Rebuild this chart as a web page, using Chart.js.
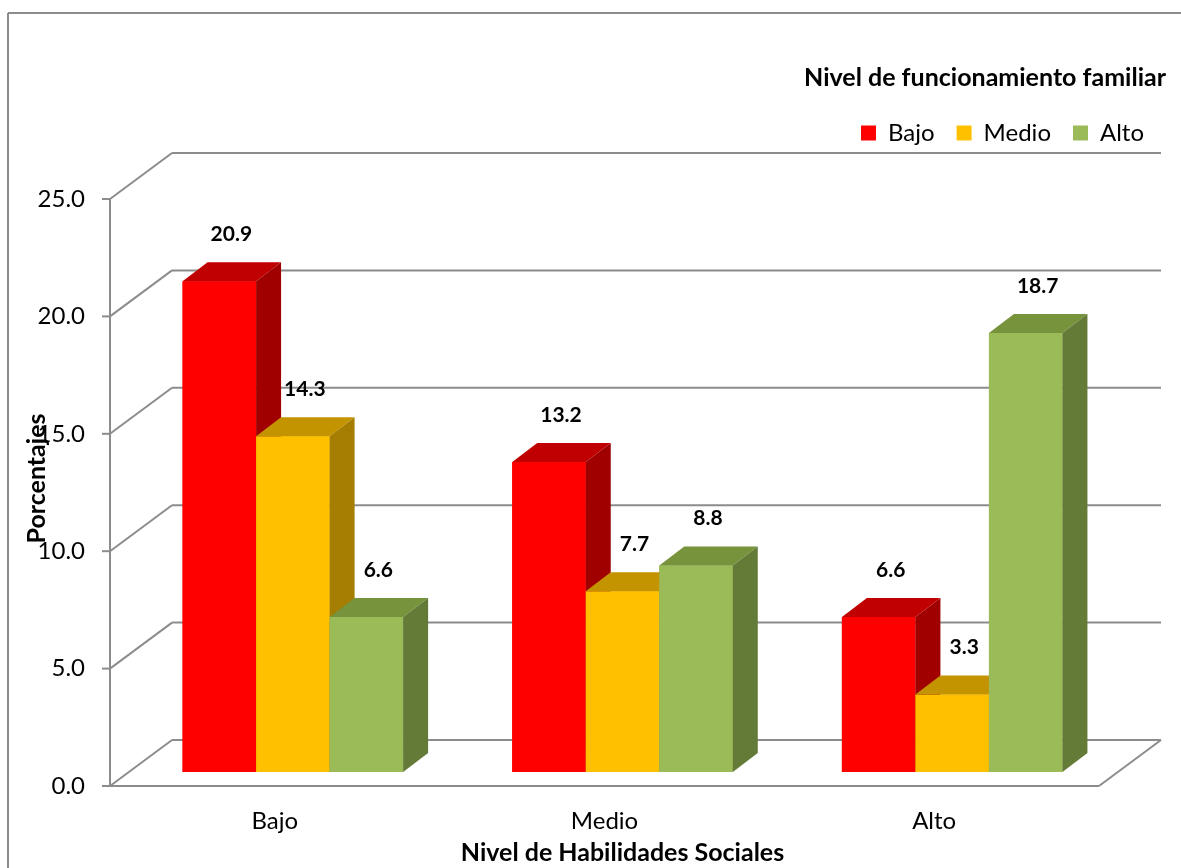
<!DOCTYPE html>
<html>
<head>
<meta charset="utf-8">
<title>Habilidades sociales</title>
<script src="https://cdn.jsdelivr.net/npm/chart.js@4.4.0/dist/chart.umd.min.js"></script>
<style>
  html, body { margin: 0; padding: 0; background: #fff; }
  canvas { display: block; }
</style>
</head>
<body>
<canvas id="myChart" width="1181" height="868"></canvas>
<script>
// data
const categories = ['Bajo', 'Medio', 'Alto'];
const seriesNames = ['Bajo', 'Medio', 'Alto'];
const bajoValues = [20.9, 13.2, 6.6];
const medioValues = [14.3, 7.7, 3.3];
const altoValues = [6.6, 8.8, 18.7];
const yTicks = [0, 5, 10, 15, 20, 25];

const frontColors = ['#FF0000', '#FFC000', '#9BBB59'];
const topColors = ['#C00000', '#C49300', '#77933C'];
const sideColors = ['#A00000', '#A57D00', '#647A37'];

const FONT = "Lato, Carlito, 'Open Sans', sans-serif";
const LINE = '#8c8c8c';
// fake 3d offsets, relative to the plane the bar fronts sit in
const BAR_DEPTH = { dx: 25, dy: -19 };
const FRONT = { dx: -18, dy: 14 };
const BACK = { dx: 44, dy: -32 };

function line(ctx, x1, y1, x2, y2) {
  ctx.beginPath();
  ctx.moveTo(x1, y1);
  ctx.lineTo(x2, y2);
  ctx.stroke();
}

function poly(ctx, pts, color) {
  ctx.beginPath();
  ctx.moveTo(pts[0][0], pts[0][1]);
  pts.slice(1).forEach((p) => ctx.lineTo(p[0], p[1]));
  ctx.closePath();
  ctx.fillStyle = color;
  ctx.fill();
}

const box3d = {
  id: 'box3d',
  afterInit(chart) {
    // leave room between legend and plot
    const legend = chart.legend;
    const fit = legend.fit;
    legend.fit = function () {
      fit.call(this);
      this.height = 165;
    };
  },
  beforeDatasetsDraw(chart) {
    const { ctx, chartArea } = chart;
    const y = chart.scales.y;
    const left = chartArea.left;
    const right = chartArea.right;
    ctx.save();
    ctx.strokeStyle = LINE;
    ctx.lineWidth = 2;

    // outer frame of the chart object
    line(ctx, 8, 13, chart.width, 13);
    line(ctx, 8, 13, 8, chart.height);

    yTicks.forEach((v) => {
      const py = y.getPixelForValue(v);
      line(ctx, left + FRONT.dx, py + FRONT.dy, left + BACK.dx, py + BACK.dy);
      line(ctx, left + BACK.dx, py + BACK.dy, right + BACK.dx, py + BACK.dy);
      line(ctx, left + FRONT.dx - 8, py + FRONT.dy, left + FRONT.dx, py + FRONT.dy);
    });

    const top = y.getPixelForValue(yTicks[yTicks.length - 1]);
    const zero = y.getPixelForValue(0);
    line(ctx, left + FRONT.dx, top + FRONT.dy, left + FRONT.dx, zero + FRONT.dy);
    // floor
    line(ctx, left + FRONT.dx, zero + FRONT.dy, right + FRONT.dx, zero + FRONT.dy);
    line(ctx, right + FRONT.dx, zero + FRONT.dy, right + BACK.dx, zero + BACK.dy);
    ctx.restore();
  },
  afterDatasetsDraw(chart) {
    const { ctx } = chart;
    const bars = [];
    chart.data.datasets.forEach((ds, i) => {
      chart.getDatasetMeta(i).data.forEach((el, j) => {
        const p = el.getProps(['x', 'y', 'base', 'width'], true);
        bars.push({ p, i, value: ds.data[j] });
      });
    });
    bars.sort((a, b) => a.p.x - b.p.x);

    ctx.save();
    bars.forEach(({ p, i }) => {
      const x0 = p.x - p.width / 2;
      const x1 = p.x + p.width / 2;
      const dx = BAR_DEPTH.dx;
      const dy = BAR_DEPTH.dy;
      poly(ctx, [[x0, p.y], [x1, p.y], [x1, p.base], [x0, p.base]], frontColors[i]);
      poly(ctx, [[x0, p.y], [x0 + dx, p.y + dy], [x1 + dx, p.y + dy], [x1, p.y]], topColors[i]);
      poly(ctx, [[x1, p.y], [x1 + dx, p.y + dy], [x1 + dx, p.base + dy], [x1, p.base]], sideColors[i]);
    });

    ctx.fillStyle = '#000';
    ctx.font = 'bold 21px ' + FONT;
    ctx.textAlign = 'center';
    ctx.textBaseline = 'middle';
    bars.forEach(({ p, value }) => {
      ctx.fillText(value.toFixed(1), p.x + 12, p.y - 47);
    });
    ctx.restore();
  }
};

function makeDataset(label, values, i) {
  return {
    label: label,
    data: values,
    backgroundColor: frontColors[i],
    borderWidth: 0,
    categoryPercentage: 0.669,
    barPercentage: 1
  };
}

const chartTarget = document.querySelector('#myChart');
const myChart = new Chart(chartTarget, {
  type: 'bar',
  data: {
    labels: categories,
    datasets: [
      makeDataset(seriesNames[0], bajoValues, 0),
      makeDataset(seriesNames[1], medioValues, 1),
      makeDataset(seriesNames[2], altoValues, 2)
    ]
  },
  options: {
    responsive: false,
    animation: false,
    layout: { padding: { left: 10, right: 15, top: 20, bottom: 0 } },
    plugins: {
      tooltip: { enabled: false },
      legend: {
        position: 'top',
        align: 'end',
        labels: {
          boxWidth: 15,
          boxHeight: 15,
          padding: 22,
          color: '#000',
          font: { family: FONT, size: 24 }
        },
        title: {
          display: true,
          text: 'Nivel de funcionamiento familiar',
          position: 'end',
          color: '#000',
          font: { family: FONT, size: 25, weight: 'bold' },
          padding: { top: 45.5, bottom: 3.5 }
        }
      }
    },
    scales: {
      x: {
        grid: { display: false },
        border: { display: false },
        ticks: {
          labelOffset: FRONT.dx,
          padding: 27,
          color: '#000',
          font: { family: FONT, size: 24 }
        },
        title: {
          display: true,
          text: 'Nivel de Habilidades Sociales',
          color: '#000',
          font: { family: FONT, size: 25, weight: 'bold' },
          padding: { top: 0, bottom: 0 }
        },
        afterFit(scale) { scale.height = 96; }
      },
      y: {
        min: 0,
        max: 25,
        grid: { display: false },
        border: { display: false },
        ticks: {
          stepSize: 5,
          labelOffset: FRONT.dy,
          padding: 35,
          color: '#000',
          font: { family: FONT, size: 24 },
          callback: (v) => v.toFixed(1)
        },
        title: {
          display: true,
          text: 'Porcentajes',
          color: '#000',
          font: { family: FONT, size: 25, weight: 'bold' },
          padding: { top: 12, bottom: 0 }
        },
        afterFit(scale) { scale.width = 118; }
      },
      yRight: {
        position: 'right',
        grid: { display: false },
        border: { display: false },
        ticks: { display: false },
        afterFit(scale) { scale.width = 49; }
      }
    }
  },
  plugins: [box3d]
});
</script>
</body>
</html>
